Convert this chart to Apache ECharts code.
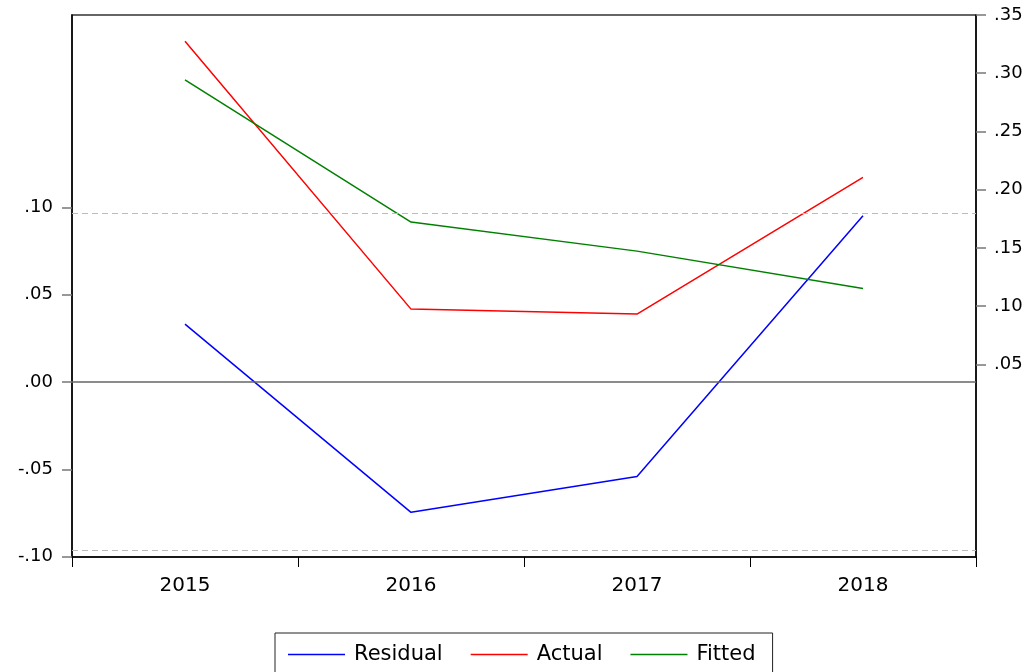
<!DOCTYPE html>
<html>
<head>
<meta charset="utf-8">
<script src="https://cdn.jsdelivr.net/npm/echarts@6/dist/echarts.min.js"></script>
<style>
html,body{margin:0;padding:0;background:#fff;}
#chart{width:1033px;height:672px;}
</style>
</head>
<body>
<div id="chart"></div>
<script>
var years = ['2015', '2016', '2017', '2018'];
var residual = [0.0332, -0.0746, -0.0541, 0.0952];
var actual = [0.3274, 0.0974, 0.0931, 0.2106];
var fitted = [0.2942, 0.1722, 0.1472, 0.1152];
var leftTicks = [-0.10, -0.05, 0.00, 0.05, 0.10];
var rightTicks = [0.05, 0.10, 0.15, 0.20, 0.25, 0.30, 0.35];
var stdBand = 0.0966;

var FONT = '"DejaVu Sans", "Liberation Sans", Arial, sans-serif';
function fmt(v) { return Number(v).toFixed(2).replace('0.', '.'); }

var chart = echarts.init(document.getElementById('chart'), null, {renderer: 'canvas'});
chart.setOption({
  animation: false,
  backgroundColor: '#ffffff',
  grid: {
    left: 72, right: 57, top: 15, bottom: 115,
    show: true, borderColor: '#333', borderWidth: 1.5, backgroundColor: 'transparent'
  },
  legend: {
    data: ['Residual', 'Actual', 'Fitted'],
    left: 275, top: 633,
    padding: [11, 17, 12, 13],
    borderColor: '#222', borderWidth: 1,
    icon: 'rect', itemWidth: 57, itemHeight: 1.5, itemGap: 28,
    textStyle: {fontFamily: FONT, fontSize: 21, color: '#000', padding: [0, 0, 0, 4]}
  },
  xAxis: {
    type: 'category', data: years, boundaryGap: true,
    axisLine: {show: true, onZero: false, lineStyle: {color: '#000', width: 1.5}},
    axisTick: {show: true, length: 10, lineStyle: {color: '#000'}},
    axisLabel: {fontFamily: FONT, fontSize: 20, color: '#000', margin: 19},
    splitLine: {show: false}
  },
  yAxis: [{
    type: 'value', position: 'left', min: -0.1002, max: 0.2102,
    axisLine: {show: true, lineStyle: {color: '#000', width: 1.5}},
    axisTick: {show: true, length: 10, customValues: leftTicks, lineStyle: {color: '#777', width: 1.5}},
    axisLabel: {fontFamily: FONT, fontSize: 18, color: '#000', margin: 19, customValues: leftTicks, formatter: fmt},
    splitLine: {show: false}
  }, {
    type: 'value', position: 'right', min: -0.1155, max: 0.35,
    axisLine: {show: true, lineStyle: {color: '#000', width: 1.5}},
    axisTick: {show: true, length: 10, customValues: rightTicks, lineStyle: {color: '#777', width: 1.5}},
    axisLabel: {fontFamily: FONT, fontSize: 18, color: '#000', margin: 18, customValues: rightTicks, formatter: fmt},
    splitLine: {show: false}
  }],
  series: [{
    name: 'Residual', type: 'line', yAxisIndex: 0, data: residual,
    symbol: 'none', lineStyle: {color: '#0000ff', width: 1.5}, itemStyle: {color: '#0000ff'},
    markLine: {
      silent: true, symbol: 'none', label: {show: false}, precision: 4,
      data: [
        {yAxis: 0, lineStyle: {color: '#666', type: 'solid', width: 1.5}},
        {yAxis: stdBand, lineStyle: {color: '#bbb', type: [6, 4], width: 1.2}},
        {yAxis: -stdBand, lineStyle: {color: '#bbb', type: [6, 4], width: 1.2}}
      ]
    },
    z: 3
  }, {
    name: 'Actual', type: 'line', yAxisIndex: 1, data: actual,
    symbol: 'none', lineStyle: {color: '#ff0000', width: 1.5}, itemStyle: {color: '#ff0000'}
  }, {
    name: 'Fitted', type: 'line', yAxisIndex: 1, data: fitted,
    symbol: 'none', lineStyle: {color: '#008000', width: 1.5}, itemStyle: {color: '#008000'}
  }]
});
</script>
</body>
</html>
